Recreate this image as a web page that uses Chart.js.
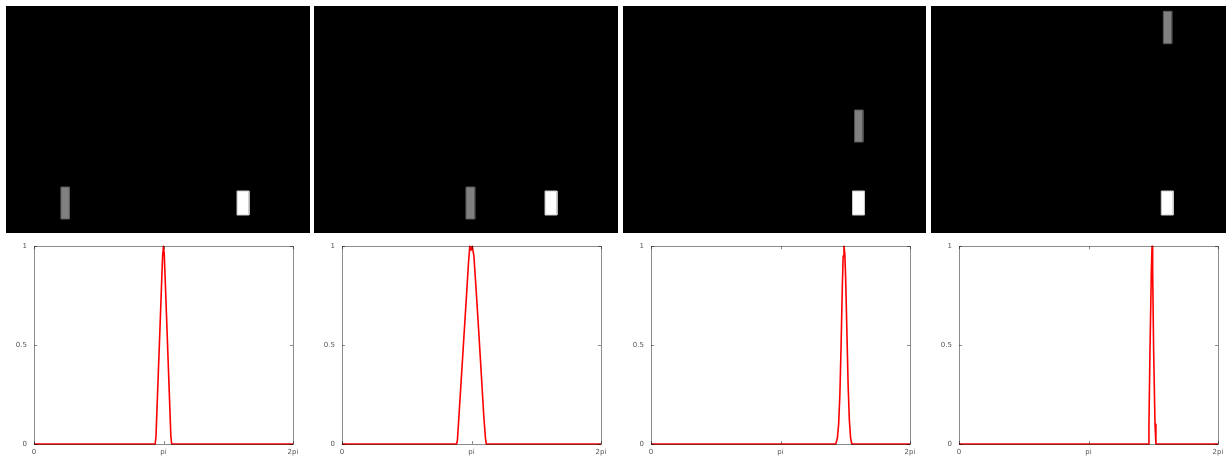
<!DOCTYPE html>
<html lang="en">
<head>
    <meta charset="UTF-8">
    <title>Catch frames and angle distributions</title>
    <style>
        body {
            margin: 0;
            width: 1226px;
            height: 460px;
            overflow: hidden;
            position: relative;
            background: #fff;
            font-family: "DejaVu Sans", sans-serif;
        }
        .frame {
            position: absolute;
            top: 6px;
            background: #000;
        }
        .dist {
            position: absolute;
            top: 235px;
        }
    </style>
</head>
<body>
    <canvas class="frame" id="frame0" width="304" height="227" style="left:6px"></canvas>
    <canvas class="frame" id="frame1" width="304" height="227" style="left:314px"></canvas>
    <canvas class="frame" id="frame2" width="303" height="227" style="left:623px"></canvas>
    <canvas class="frame" id="frame3" width="304" height="227" style="left:931px"></canvas>
    <canvas class="dist" id="dist0" width="304" height="225" style="left:6px"></canvas>
    <canvas class="dist" id="dist1" width="304" height="225" style="left:314px"></canvas>
    <canvas class="dist" id="dist2" width="304" height="225" style="left:623px"></canvas>
    <canvas class="dist" id="dist3" width="304" height="225" style="left:931px"></canvas>

    <script src="https://cdn.jsdelivr.net/npm/chart.js"></script>
    <script>
        // frame size (screen units, y measured from the top)
        const frameW = 160;
        const frameH = 120;

        // falling block (gray), one per frame
        const blockLeft = [28.9, 80.0, 122.3, 122.3];
        const blockRight = [33.4, 84.6, 126.7, 126.7];
        const blockTop = [95.7, 95.7, 55.0, 2.8];
        const blockBottom = [112.6, 112.6, 71.9, 19.9];

        // catcher (white), one per frame
        const catcherLeft = [121.6, 121.6, 121.2, 121.2];
        const catcherRight = [127.9, 127.9, 127.5, 127.5];
        const catcherTop = [97.8, 97.8, 97.8, 97.8];
        const catcherBottom = [110.5, 110.5, 110.5, 110.5];

        // distributions over angle
        const angle0 = [0, 2.94, 2.96, 3.0, 3.05, 3.09, 3.12, 3.14, 3.16, 3.19, 3.23, 3.28, 3.32, 3.34, 6.2832];
        const prob0 = [0, 0, 0.04, 0.27, 0.55, 0.78, 0.95, 1, 0.96, 0.79, 0.56, 0.27, 0.04, 0, 0];

        const angle1 = [0, 2.78, 2.8, 2.84, 2.9, 2.96, 3.02, 3.07, 3.1, 3.13, 3.16, 3.2, 3.26, 3.32, 3.38, 3.44, 3.48, 3.5, 6.2832];
        const prob1 = [0, 0, 0.02, 0.15, 0.35, 0.55, 0.75, 0.92, 1, 0.98, 1, 0.95, 0.76, 0.56, 0.35, 0.14, 0.03, 0, 0];

        const angle2 = [0, 4.482, 4.522, 4.552, 4.582, 4.612, 4.642, 4.662, 4.682, 4.702, 4.722, 4.752, 4.782, 4.812, 4.842, 4.872, 6.2832];
        const prob2 = [0, 0, 0.03, 0.1, 0.25, 0.5, 0.8, 0.95, 1, 0.96, 0.84, 0.57, 0.3, 0.12, 0.03, 0, 0];

        const angle3 = [0, 4.59, 4.608, 4.633, 4.666, 4.683, 4.698, 4.722, 4.755, 4.777, 6.2832];
        const prob3 = [0, 0, 0.1, 0.47, 0.87, 1, 0.87, 0.47, 0.1, 0, 0];

        const angles = [angle0, angle1, angle2, angle3];
        const probs = [prob0, prob1, prob2, prob3];

        const xTickValues = [0, Math.PI, 2 * Math.PI];
        const xTickLabels = ['0', 'pi', '2pi'];
        const yTickValues = [0, 0.5, 1];
        const yTickLabels = ['0', '0.5', '1'];

        function box(l, r, t, b) {
            return [{x: l, y: t}, {x: r, y: t}, {x: r, y: b}, {x: l, y: b}, {x: l, y: t}];
        }

        function drawFrame(i) {
            new Chart(document.getElementById('frame' + i), {
                type: 'scatter',
                data: {
                    datasets: [
                        {
                            data: box(blockLeft[i], blockRight[i], blockTop[i], blockBottom[i]),
                            showLine: true,
                            fill: 'shape',
                            backgroundColor: '#808080',
                            borderColor: '#5a5a5a',
                            borderWidth: 1,
                            borderJoinStyle: 'miter',
                            pointRadius: 0
                        },
                        {
                            data: box(catcherLeft[i], catcherRight[i], catcherTop[i], catcherBottom[i]),
                            showLine: true,
                            fill: 'shape',
                            backgroundColor: '#ffffff',
                            borderColor: '#c8c8c8',
                            borderWidth: 1,
                            borderJoinStyle: 'miter',
                            pointRadius: 0
                        }
                    ]
                },
                options: {
                    responsive: false,
                    animation: false,
                    devicePixelRatio: 1,
                    layout: { padding: 0 },
                    plugins: { legend: { display: false }, tooltip: { enabled: false } },
                    scales: {
                        x: { type: 'linear', min: 0, max: frameW, display: false },
                        y: { type: 'linear', min: 0, max: frameH, reverse: true, display: false }
                    }
                }
            });
        }

        // box round the plot area plus small inward ticks, drawn over the data
        const axesBox = {
            id: 'axesBox',
            afterDatasetsDraw(chart) {
                const ctx = chart.ctx;
                const a = chart.chartArea;
                const xs = chart.scales.x;
                const ys = chart.scales.y;
                ctx.save();
                ctx.strokeStyle = 'rgba(0,0,0,0.45)';
                ctx.lineWidth = 1;
                ctx.strokeRect(Math.round(a.left) + 0.5, Math.round(a.top) + 0.5,
                    Math.round(a.right - a.left), Math.round(a.bottom - a.top));
                ctx.beginPath();
                xTickValues.forEach(v => {
                    const px = Math.round(xs.getPixelForValue(v)) + 0.5;
                    ctx.moveTo(px, a.bottom); ctx.lineTo(px, a.bottom - 3);
                    ctx.moveTo(px, a.top); ctx.lineTo(px, a.top + 3);
                });
                yTickValues.forEach(v => {
                    const py = Math.round(ys.getPixelForValue(v)) + 0.5;
                    ctx.moveTo(a.left, py); ctx.lineTo(a.left + 3, py);
                    ctx.moveTo(a.right, py); ctx.lineTo(a.right - 3, py);
                });
                ctx.stroke();
                ctx.restore();
            }
        };

        function drawDist(i) {
            const points = angles[i].map((x, k) => ({x: x, y: probs[i][k]}));
            new Chart(document.getElementById('dist' + i), {
                type: 'scatter',
                data: {
                    datasets: [{
                        data: points,
                        showLine: true,
                        borderColor: '#ff0000',
                        borderWidth: 1.6,
                        borderJoinStyle: 'round',
                        pointRadius: 0,
                        tension: 0,
                        clip: false
                    }]
                },
                options: {
                    responsive: false,
                    animation: false,
                    devicePixelRatio: 1,
                    layout: { padding: { top: 10, right: 17, left: 0, bottom: 0 } },
                    plugins: { legend: { display: false }, tooltip: { enabled: false } },
                    scales: {
                        x: {
                            type: 'linear',
                            min: 0,
                            max: 2 * Math.PI,
                            grid: { display: false, drawTicks: false },
                            border: { display: false },
                            afterBuildTicks: s => { s.ticks = xTickValues.map(v => ({value: v})); },
                            afterFit: s => { s.height = 16; },
                            ticks: {
                                autoSkip: false,
                                maxRotation: 0,
                                padding: 4,
                                color: '#555',
                                font: { family: 'DejaVu Sans', size: 7 },
                                callback: (v, idx) => xTickLabels[idx]
                            }
                        },
                        y: {
                            type: 'linear',
                            min: 0,
                            max: 1,
                            grid: { display: false, drawTicks: false },
                            border: { display: false },
                            afterBuildTicks: s => { s.ticks = yTickValues.map(v => ({value: v})); },
                            afterFit: s => { s.width = 28; },
                            ticks: {
                                autoSkip: false,
                                padding: 7,
                                color: '#555',
                                font: { family: 'DejaVu Sans', size: 7 },
                                callback: (v, idx) => yTickLabels[idx]
                            }
                        }
                    }
                },
                plugins: [axesBox]
            });
        }

        for (let i = 0; i < 4; i++) {
            drawFrame(i);
            drawDist(i);
        }
    </script>
</body>
</html>
